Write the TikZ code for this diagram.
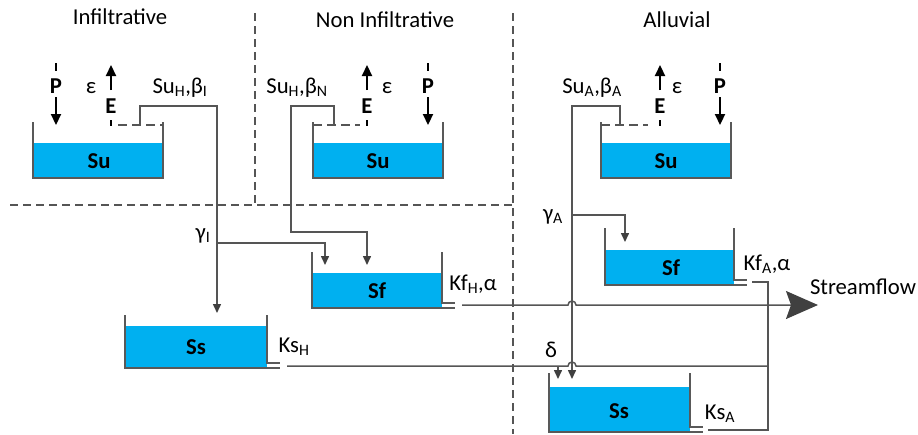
\documentclass[tikz,border=0pt]{standalone}
\usepackage{fontspec}
\setmainfont{Carlito}
\usetikzlibrary{arrows.meta}
\definecolor{water}{HTML}{00B0F0}
\definecolor{ln}{HTML}{555555}
\definecolor{tk}{HTML}{595959}
\definecolor{hd}{HTML}{404040}
\newcommand\drawtank[5]{%
  \fill[water] (#1,#4) rectangle (#2,#5);
  \draw[tankline] (#1,#3) -- (#1,#5) -- (#2,#5) -- (#2,#3);}
\newcommand\drawtankout[5]{%
  \fill[water] (#1,#4) rectangle (#2,#5);
  \draw[tankline] (#1,#3) -- (#1,#5) -- (#2+13,#5);
  \draw[tankline] (#2,#3) -- (#2,#5-5) -- (#2+13,#5-5);}
\begin{document}
\begin{tikzpicture}[x=1pt,y=-1pt,
  font=\fontsize{22.7}{27}\selectfont,
  tankline/.style={draw=tk,line width=2pt},
  conn/.style={draw=ln,line width=1.5pt},
  arr/.style={conn,-{Triangle[length=9pt,width=8pt,color=hd]}},
  divider/.style={draw=ln,line width=1.5pt,dash pattern=on 8pt off 5pt},
  lvl/.style={draw=ln,line width=1.5pt,dash pattern=on 9pt off 5pt},
  flux/.style={draw=black,line width=2.2pt,-{Triangle[length=11pt,width=10pt]}},
  tick/.style={draw=black,line width=2.2pt},
  lab/.style={anchor=base,inner sep=0pt},
  blab/.style={lab,font=\fontsize{22.7}{27}\selectfont\bfseries},
]
\useasboundingbox (0,0) rectangle (918,434);

% dividers
\draw[divider] (255,13) -- (255,204);
\draw[divider] (10,205) -- (513,205);
\draw[divider] (513,13) -- (513,434);

% region titles
\node[lab] (tI) at (120,24) {Infiltrative};
\node[lab] (tN) at (385,27) {Non Infiltrative};
\node[lab] (tA) at (677,27) {Alluvial};

% tanks
\drawtank{33}{163}{122}{143}{178}
\drawtank{313}{443}{122}{143}{178}
\drawtank{601}{731}{122}{143}{178}
\drawtankout{312}{442}{252}{273}{308}
\drawtankout{125}{267}{315}{326}{368}
\drawtankout{605}{734}{228}{250}{285}
\drawtankout{549}{690}{373}{387}{432}

\node[blab] (suI) at (99,168) {Su};
\node[blab] (suN) at (378,168) {Su};
\node[blab] (suA) at (666,168) {Su};
\node[blab] (sfH) at (377,298) {Sf};
\node[blab] (ssH) at (196,354) {Ss};
\node[blab] (sfA) at (671,275) {Sf};
\node[blab] (ssA) at (619,418) {Ss};

% P / E fluxes
\foreach \n/\px/\ex/\epx in {I/56/111/91, N/428/367/387, A/720/660/677}{
  \coordinate (pt\n) at (\px,63);
  \coordinate (pa\n) at (\px,97);
  \coordinate (pb\n) at (\px,125);
  \draw[tick] (pt\n) -- (\px,71);
  \node[blab] (P\n) at (\px,93) {P};
  \draw[flux] (pa\n) -- (pb\n);
  \coordinate (ea\n) at (\ex,90);
  \coordinate (eb\n) at (\ex,65);
  \draw[flux] (ea\n) -- (eb\n);
  \node[blab] (E\n) at (\ex,113) {E};
  \draw[tick] (\ex,120) -- (\ex,126);
  \node[lab] (eps\n) at (\epx,93) {ε};
}

% overflow levels
\draw[lvl] (118,125) -- (163,125);
\draw[lvl] (313,125) -- (360,125);
\draw[lvl] (601,125) -- (648,125);

% overflow labels
\node[lab] (lI) at (180,93) {Su\textsubscript{H},β\textsubscript{I}};
\node[lab] (lN) at (297,93) {Su\textsubscript{H},β\textsubscript{N}};
\node[lab] (lA) at (592,93) {Su\textsubscript{A},β\textsubscript{A}};

% Infiltrative connectors
\draw[arr] (140,125) -- (140,106) -- (217,106) -- (217,313);
\draw[arr] (217,243) -- (325,243) -- (325,265);
\node[lab] (gI) at (203,239) {γ\textsubscript{I}};

% Non infiltrative connectors
\draw[arr] (334,125) -- (334,106) -- (291,106) -- (291,232) -- (367,232) -- (367,265);

% Alluvial connectors
\draw[arr] (620,125) -- (620,106) -- (572,106) -- (572,379);
\draw[arr] (572,215) -- (625,215) -- (625,242);
\node[lab] (gA) at (553,220) {γ\textsubscript{A}};

% outlet labels
\node[lab] (kfH) at (473,290) {Kf\textsubscript{H},α};
\node[lab] (ksH) at (294,352) {Ks\textsubscript{H}};
\node[lab] (kfA) at (767,270) {Kf\textsubscript{A},α};
\node[lab] (ksA) at (720,419) {Ks\textsubscript{A}};

% streamflow
\coordinate (sfout) at (462,305);
\coordinate (sftip) at (818,305);
\draw[conn,-{Stealth[length=32pt,width=28pt,inset=5pt,color=hd]}] (sfout) -- (568,305) arc[start angle=180,end angle=360,radius=4] -- (sftip);
\node[lab] (sflab) at (863,294) {Streamflow};

% slow outlet H and delta
\coordinate (ssHout) at (287,366);
\coordinate (jn) at (768,366);
\draw[conn] (ssHout) -- (568,366) arc[start angle=180,end angle=360,radius=4] -- (jn);
\draw[arr] (558,366) -- (558,379);
\node[lab] (dl) at (551,357) {δ};

% Alluvial outlets
\draw[conn] (752,282) -- (768,282) -- (768,430) -- (708,430);
\end{tikzpicture}
\end{document}
